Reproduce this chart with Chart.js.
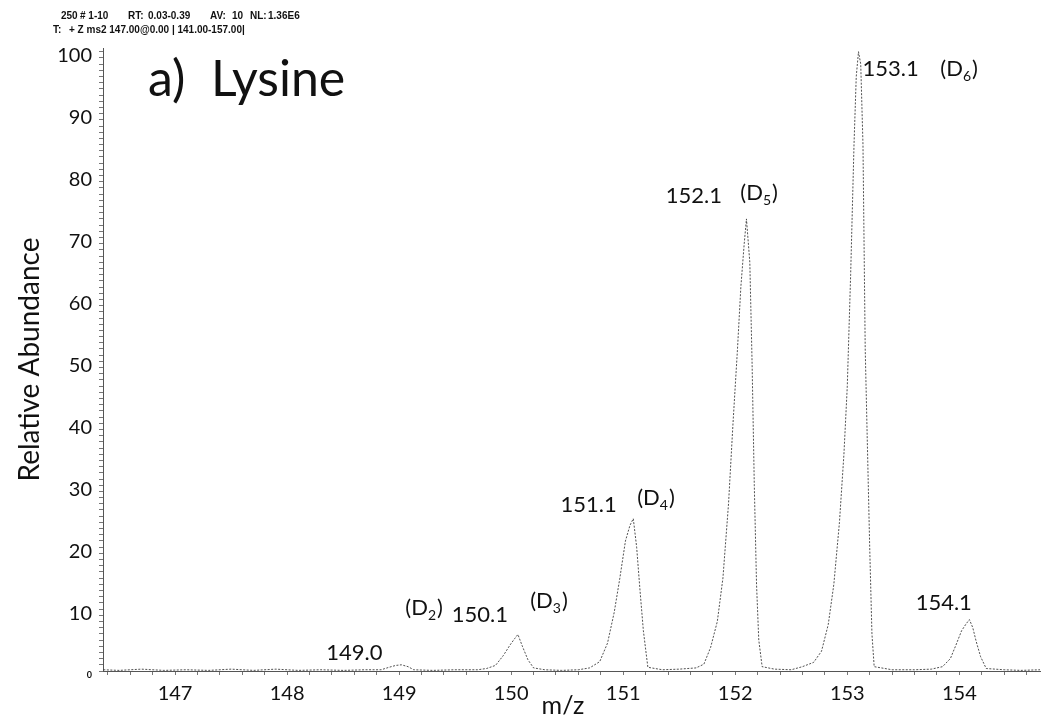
<!DOCTYPE html>
<html>
<head>
<meta charset="utf-8">
<script src="https://cdn.jsdelivr.net/npm/chart.js@4.4.1/dist/chart.umd.min.js"></script>
<style>
  html, body { margin: 0; padding: 0; background: #fff; }
  canvas { display: block; }
</style>
</head>
<body>
<canvas id="spectrum" width="1042" height="720"></canvas>
<script>
// profile spectrum, m/z vs relative abundance
var mz = [
  146.36, 146.5, 146.7, 146.9, 147.1, 147.3, 147.5, 147.7, 147.9, 148.1,
  148.3, 148.5, 148.7, 148.84, 148.91, 148.97, 149.02, 149.08, 149.13, 149.3,
  149.5, 149.7, 149.78, 149.86, 149.93, 149.99, 150.03, 150.06, 150.1, 150.15,
  150.2, 150.3, 150.45, 150.6, 150.7, 150.79, 150.86, 150.92, 150.97, 151.02,
  151.06, 151.09, 151.12, 151.15, 151.18, 151.22, 151.35, 151.5, 151.65, 151.72,
  151.78, 151.84, 151.89, 151.94, 151.98, 152.02, 152.05, 152.08, 152.1, 152.13,
  152.15, 152.17, 152.19, 152.21, 152.24, 152.35, 152.5, 152.6, 152.7, 152.77,
  152.83, 152.88, 152.93, 152.97, 153.0, 153.03, 153.06, 153.08, 153.1, 153.12,
  153.14, 153.16, 153.18, 153.2, 153.22, 153.24, 153.4, 153.6, 153.75, 153.85,
  153.92, 153.97, 154.02, 154.06, 154.09, 154.12, 154.15, 154.19, 154.24, 154.4,
  154.55, 154.72
];
var abundance = [
  0.2, 0.1, 0.3, 0.1, 0.2, 0.1, 0.3, 0.1, 0.3, 0.1,
  0.2, 0.1, 0.2, 0.2, 0.6, 0.9, 1.0, 0.7, 0.2, 0.1,
  0.2, 0.2, 0.4, 0.9, 2.5, 4.2, 5.2, 5.9, 4.0, 1.8,
  0.5, 0.2, 0.1, 0.2, 0.5, 1.5, 4.5, 9.5, 15.0, 21.0,
  23.5, 24.6, 20.0, 13.0, 6.5, 0.6, 0.2, 0.3, 0.5, 1.1,
  3.8, 8.0, 15.0, 27.0, 40.0, 52.0, 62.0, 69.0, 73.0, 66.0,
  50.0, 30.0, 14.0, 5.0, 0.7, 0.3, 0.2, 0.7, 1.4, 3.2,
  7.5, 14.0, 24.0, 35.0, 46.0, 64.0, 85.0, 96.0, 100, 98.0,
  85.0, 52.0, 36.0, 20.0, 6.0, 0.7, 0.2, 0.2, 0.3, 0.7,
  2.0, 4.2, 6.5, 7.6, 8.3, 7.0, 4.8, 2.3, 0.4, 0.2,
  0.1, 0.2
];

// peak annotations: centroid m/z and isotopologue
var peakNames = ['149.0', '150.1', '151.1', '152.1', '153.1', '154.1'];
var peakTags = ['2', '3', '4', '5', '6', null];

var xMin = 146.357, xMax = 154.72;
var yMax = 100.6;

var FONT = 'Lato, "Open Sans", sans-serif';

// where each label sits, in axis units (x, y of text baseline)
var namePos = [[148.35, 1.8], [149.47, 7.9], [150.44, 25.7], [151.38, 75.6], [153.135, 96.1], [153.61, 9.9]];
var tagPos = [[149.055, 9.0], [150.17, 10.2], [151.125, 26.8], [152.045, 76.1], [153.83, 96.1], null];

var header1 = [['250', 61], ['# 1-10', 80], ['RT:', 128], ['0.03-0.39', 148], ['AV:', 210], ['10', 232], ['NL:', 250], ['1.36E6', 268]];
var header2 = [['T:', 53], ['+ Z ms2 147.00@0.00 | 141.00-157.00|', 69]];

function drawTag(ctx, x, y, n) {
  ctx.font = '22px ' + FONT;
  ctx.fillText('(D', x, y);
  var w = ctx.measureText('(D').width;
  ctx.font = '14px ' + FONT;
  ctx.fillText(n, x + w, y + 5);
  var w2 = ctx.measureText(n).width;
  ctx.font = '22px ' + FONT;
  ctx.fillText(')', x + w + w2 + 1, y);
}

var textLayer = {
  id: 'textLayer',
  afterDraw: function (chart) {
    var ctx = chart.ctx;
    var xs = chart.scales.x, ys = chart.scales.y;
    ctx.save();
    ctx.fillStyle = '#111';
    ctx.textAlign = 'left';
    ctx.textBaseline = 'alphabetic';

    // acquisition header
    ctx.font = 'bold 10px "Liberation Sans", sans-serif';
    header1.forEach(function (h) { ctx.fillText(h[0], h[1], 19); });
    header2.forEach(function (h) { ctx.fillText(h[0], h[1], 33); });

    ctx.font = '50px ' + FONT;
    ctx.fillText('a)  Lysine', 148, 96);

    peakNames.forEach(function (name, i) {
      ctx.font = '22px ' + FONT;
      ctx.fillText(name, xs.getPixelForValue(namePos[i][0]), ys.getPixelForValue(namePos[i][1]));
      if (peakTags[i]) {
        drawTag(ctx, xs.getPixelForValue(tagPos[i][0]), ys.getPixelForValue(tagPos[i][1]), peakTags[i]);
      }
    });

    ctx.font = '25px ' + FONT;
    ctx.textAlign = 'center';
    ctx.fillText('m/z', 563, 714);
    ctx.restore();
  }
};

var points = mz.map(function (m, i) { return { x: m, y: abundance[i] }; });

new Chart(document.getElementById('spectrum'), {
  type: 'line',
  data: {
    datasets: [{
      data: points,
      borderColor: 'rgba(50,50,50,0.85)',
      borderWidth: 1,
      borderDash: [2, 1.5],
      pointRadius: 0,
      tension: 0,
      fill: false
    }]
  },
  options: {
    responsive: false,
    animation: false,
    layout: { padding: { top: 48, right: 2, left: 0, bottom: 0 } },
    plugins: { legend: { display: false }, tooltip: { enabled: false } },
    scales: {
      x: {
        type: 'linear',
        min: xMin,
        max: xMax,
        afterFit: function (s) { s.height = 49; },
        border: { color: '#555', width: 1 },
        grid: { drawOnChartArea: false, tickLength: 4, color: '#777' },
        ticks: {
          stepSize: 0.2,
          includeBounds: false,
          autoSkip: false,
          maxRotation: 0,
          padding: 7,
          color: '#111',
          font: { family: FONT, size: 20 },
          callback: function (v) {
            return Math.abs(v - Math.round(v)) < 1e-6 ? String(Math.round(v)) : '';
          }
        }
      },
      y: {
        min: 0,
        max: yMax,
        afterFit: function (s) { s.width = 103; },
        border: { color: '#555', width: 1, dash: [2, 1] },
        grid: { drawOnChartArea: false, tickLength: 4, color: '#777' },
        title: {
          display: true,
          text: 'Relative Abundance',
          color: '#111',
          font: { family: FONT, size: 28 },
          padding: { top: 13, bottom: 0 }
        },
        ticks: {
          stepSize: 1,
          includeBounds: false,
          autoSkip: false,
          padding: 7,
          labelOffset: 4,
          color: '#111',
          font: function (c) {
            if (c.tick && c.tick.value === 0) return { family: FONT, size: 9, weight: 'bold' };
            return { family: FONT, size: 20 };
          },
          callback: function (v) { return v % 10 === 0 ? String(v) : ''; }
        }
      }
    }
  },
  plugins: [textLayer]
});
</script>
</body>
</html>
